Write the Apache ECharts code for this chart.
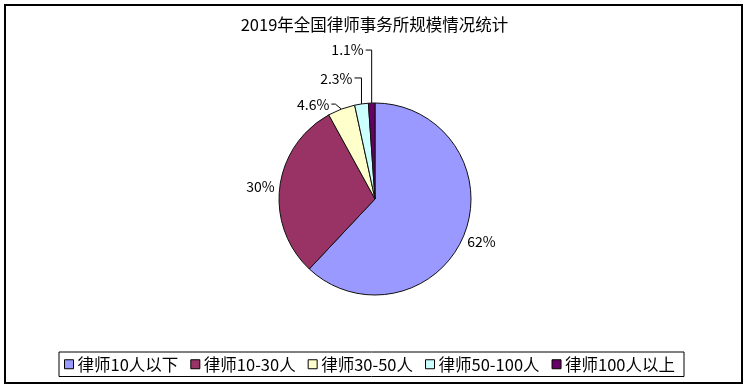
<!DOCTYPE html>
<html><head><meta charset="utf-8">
<script src="https://cdn.jsdelivr.net/npm/echarts@6/dist/echarts.min.js"></script>
<style>html,body{margin:0;padding:0;background:#fff}#c{width:749px;height:390px}</style>
</head><body><div id="c"></div>
<script>
const titleText = '2019年全国律师事务所规模情况统计';
const categories = ['律师10人以下', '律师10-30人', '律师30-50人', '律师50-100人', '律师100人以上'];
const values = [62, 30, 4.6, 2.3, 1.1];
const labelTexts = ['62%', '30%', '4.6%', '2.3%', '1.1%'];
const colors = ['#9999FF', '#993366', '#FFFFCC', '#CCFFFF', '#660066'];
const FONT = '"Noto Sans CJK SC", "Noto Sans", sans-serif';

const chart = echarts.init(document.getElementById('c'), null, {renderer: 'canvas'});
chart.setOption({
  animation: false,
  backgroundColor: '#fff',
  textStyle: {fontFamily: FONT},
  graphic: [{
    type: 'rect', shape: {x: 5, y: 5, width: 737, height: 378},
    style: {fill: 'none', stroke: '#000', lineWidth: 2}, silent: true, z: 100
  }],
  title: {
    text: titleText, left: 'center', top: 11,
    textStyle: {fontSize: 16.5, fontWeight: 'normal', color: '#000', fontFamily: FONT}
  },
  legend: {
    data: categories, left: 59, top: 352, orient: 'horizontal',
    padding: [4, 9, 4, 5], borderColor: '#000', borderWidth: 1,
    itemWidth: 9, itemHeight: 9, itemGap: 12, icon: 'rect',
    itemStyle: {borderColor: '#000', borderWidth: 1},
    textStyle: {fontSize: 16.5, color: '#000', fontFamily: FONT, padding: [0, 0, 0, -1]}
  },
  series: [{
    type: 'pie', center: [375, 199], radius: 96, startAngle: 90, clockwise: true,
    avoidLabelOverlap: false,
    data: categories.map((c, i) => ({name: c, value: values[i], itemStyle: {color: colors[i]}})),
    itemStyle: {borderColor: '#111', borderWidth: 1},
    label: {
      show: true, position: 'outside', color: '#000', fontSize: 14, fontFamily: FONT,
      formatter: p => labelTexts[p.dataIndex]
    },
    labelLine: {show: true, length: 8, length2: 6, lineStyle: {color: '#000', width: 1}},
    labelLayout: function (params) {
      const i = params.dataIndex;
      const pts = params.labelLinePoints;
      if (!pts) return {};
      const p0 = pts[0];
      if (i === 0) {
        return {x: p0[0] + 3, y: p0[1] + 7, align: 'left', verticalAlign: 'middle', labelLinePoints: [p0, p0, p0]};
      }
      if (i === 1) {
        return {x: p0[0] - 5, y: p0[1], align: 'right', verticalAlign: 'middle', labelLinePoints: [p0, p0, p0]};
      }
      if (i === 2) {
        const p1 = [p0[0] - 6, p0[1] - 5];
        const p2 = [p0[0] - 10, p0[1] - 5];
        return {x: p2[0] - 2, y: p2[1] + 1, align: 'right', verticalAlign: 'middle', labelLinePoints: [p0, p1, p2]};
      }
      if (i === 3) {
        const p1 = [p0[0], p0[1] - 26];
        const p2 = [p0[0] - 7, p0[1] - 26];
        return {x: p2[0] - 2, y: p2[1] + 1, align: 'right', verticalAlign: 'middle', labelLinePoints: [p0, p1, p2]};
      }
      const p1 = [p0[0], p0[1] - 53];
      const p2 = [p0[0] - 6, p0[1] - 53];
      return {x: p2[0] - 2, y: p2[1], align: 'right', verticalAlign: 'middle', labelLinePoints: [p0, p1, p2]};
    }
  }]
});
</script></body></html>
